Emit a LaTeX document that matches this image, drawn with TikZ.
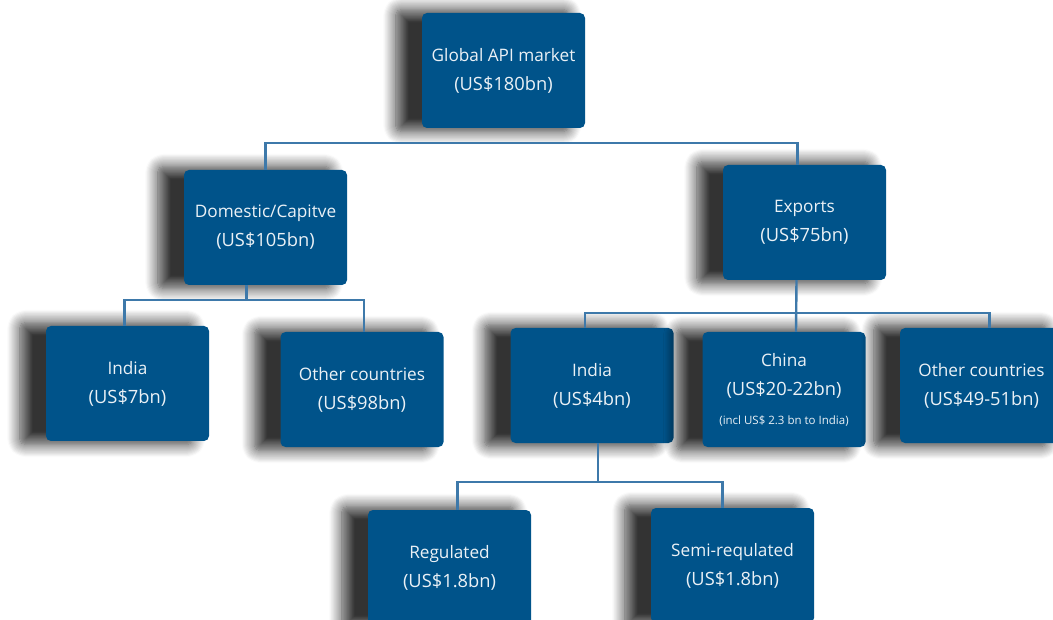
\documentclass[tikz,border=0pt]{standalone}
\usepackage{fontspec}
\setmainfont{Open Sans}
\usepackage{tikz}
\usetikzlibrary{positioning,calc,shadows.blur}
\definecolor{boxblue}{RGB}{0,83,138}
\definecolor{lineblue}{RGB}{62,121,170}
\newcommand{\val}[1]{{\fontsize{18.3}{29}\selectfont #1}}
\newcommand{\note}[1]{{\fontsize{11.5}{27}\selectfont #1}}

\begin{document}
\begin{tikzpicture}[x=1pt,y=-1pt,
  box/.style={fill=boxblue,rounded corners=5pt,minimum width=163pt,minimum height=115pt,
    align=center,text=white!92!boxblue,font=\fontsize{17.2}{29}\selectfont,
    blur shadow={shadow xshift=-20pt,shadow yshift=0pt,shadow blur radius=12pt,shadow blur steps=12,shadow opacity=80,shadow scale=1.06}},
  conn/.style={draw=lineblue,line width=2.4pt}]
\useasboundingbox (0,0) rectangle (1053,620);
\clip (0,0) rectangle (1053,620);
%
  \node[box] (top) at (503.5,70.5) {Global API market\\\val{(US\$180bn)}};
  \node[box] (dom) at (265.5,227.5) {Domestic/Capitve\\\val{(US\$105bn)}};
  \node[box] (exp) at (804.5,222.5) {Exports\\\val{(US\$75bn)}};
%
  \node[box] (indA) at (127.5,383.5) {India\\\val{(US\$7bn)}};
  \node[box] (othA) at (362,389.5) {Other countries\\\val{(US\$98bn)}};
  \node[box] (indB) at (592,385.5) {India\\\val{(US\$4bn)}};
  \node[box] (china) at (784,389.5) {China\\\val{(US\$20-22bn)}\\\note{(incl US\$ 2.3 bn to India)}};
  \node[box] (othB) at (981.5,385.5) {Other countries\\\val{(US\$49-51bn)}};
%
  \node[box] (reg) at (449.5,567.5) {Regulated\\\val{(US\$1.8bn)}};
  \node[box] (semi) at (732.5,565.5) {Semi-requlated\\\val{(US\$1.8bn)}};
%
  \draw[conn] (dom.north) |- ([yshift=-15pt]top.south) -| ([xshift=-7pt]exp.north);
%
  \draw[conn] ([xshift=-19pt]dom.south) -- ++(0,15);
  \draw[conn] ([xshift=-3pt]indA.north) |- ([xshift=-19pt,yshift=-15pt]dom.south) -| ([xshift=2pt]othA.north);
%
  \draw[conn] ([xshift=-8pt]exp.south) -- ([xshift=12pt]china.north);
  \draw[conn] ([xshift=-7pt]indB.north) |- ([xshift=-8pt,yshift=-33pt]exp.south) -| ([xshift=8pt]othB.north);
%
  \draw[conn] ([xshift=6pt]indB.south) -- ++(0,39);
  \draw[conn] ([xshift=8pt]reg.north) |- ([xshift=6pt,yshift=-39pt]indB.south) -| ([xshift=-10pt]semi.north);
\end{tikzpicture}
\end{document}
